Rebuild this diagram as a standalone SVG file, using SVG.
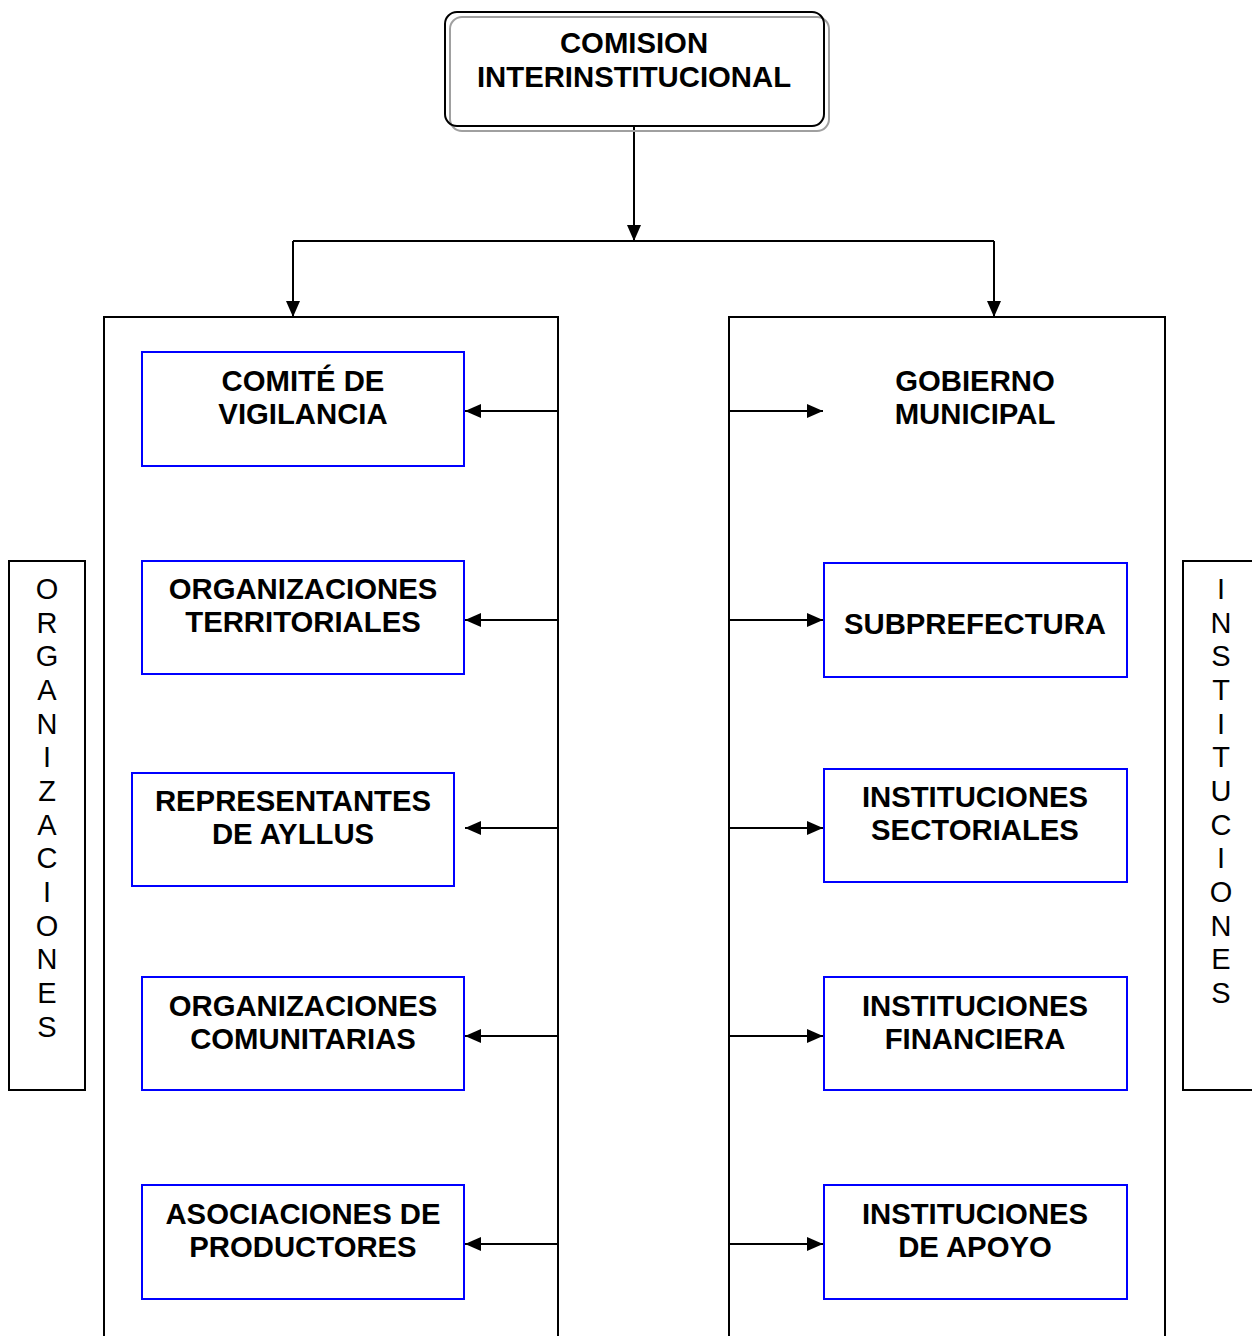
<svg xmlns="http://www.w3.org/2000/svg" width="1252" height="1336" viewBox="0 0 1252 1336">
<style>
.t{font-family:"Liberation Sans",Arial,sans-serif;font-weight:bold;font-size:29.3px;fill:#000;text-anchor:middle}
.v{font-family:"Liberation Sans",Arial,sans-serif;font-size:29px;fill:#000;text-anchor:middle}
.b{fill:#fff;stroke:#0000ff;stroke-width:2}
.k{fill:none;stroke:#000;stroke-width:2}
.c{fill:none;stroke:#000;stroke-width:2}
</style>
<defs>
<marker id="ah" viewBox="0 0 16 14" refX="16" refY="7" markerWidth="16" markerHeight="14" markerUnits="userSpaceOnUse" orient="auto">
<path d="M0,0 L16,7 L0,14 Z" fill="#000"/>
</marker>
</defs>
<rect width="1252" height="1336" fill="#fff"/>

<g id="containers">
<path class="k" d="M104,1336 V317 H558 V1336"/>
<path class="k" d="M729,1336 V317 H1165 V1336"/>
</g>

<g id="connectors">
<line class="c" x1="634" y1="126" x2="634" y2="241" marker-end="url(#ah)"/>
<path class="c" d="M293,241 H994"/>
<line class="c" x1="293" y1="241" x2="293" y2="317" marker-end="url(#ah)"/>
<line class="c" x1="994" y1="241" x2="994" y2="317" marker-end="url(#ah)"/>
<line class="c" x1="558" y1="411" x2="465" y2="411" marker-end="url(#ah)"/>
<line class="c" x1="558" y1="620" x2="465" y2="620" marker-end="url(#ah)"/>
<line class="c" x1="558" y1="828" x2="465" y2="828" marker-end="url(#ah)"/>
<line class="c" x1="558" y1="1036" x2="465" y2="1036" marker-end="url(#ah)"/>
<line class="c" x1="558" y1="1244" x2="465" y2="1244" marker-end="url(#ah)"/>
<line class="c" x1="729" y1="411" x2="823" y2="411" marker-end="url(#ah)"/>
<line class="c" x1="729" y1="620" x2="823" y2="620" marker-end="url(#ah)"/>
<line class="c" x1="729" y1="828" x2="823" y2="828" marker-end="url(#ah)"/>
<line class="c" x1="729" y1="1036" x2="823" y2="1036" marker-end="url(#ah)"/>
<line class="c" x1="729" y1="1244" x2="823" y2="1244" marker-end="url(#ah)"/>
</g>

<g id="comision">
<rect x="450" y="17" width="379" height="114" rx="12" fill="none" stroke="#a0a0a0" stroke-width="2"/>
<rect x="445" y="12" width="379" height="114" rx="12" fill="none" stroke="#000" stroke-width="2"/>
<text class="t" x="634" y="53">COMISION</text>
<text class="t" x="634" y="87">INTERINSTITUCIONAL</text>
</g>

<g id="comite">
<rect class="b" x="142" y="352" width="322" height="114"/>
<text class="t" x="303" y="391">COMITÉ DE</text>
<text class="t" x="303" y="424">VIGILANCIA</text>
</g>
<g id="org-territoriales">
<rect class="b" x="142" y="561" width="322" height="113"/>
<text class="t" x="303" y="599">ORGANIZACIONES</text>
<text class="t" x="303" y="632">TERRITORIALES</text>
</g>
<g id="representantes">
<rect class="b" x="132" y="773" width="322" height="113"/>
<text class="t" x="293" y="811">REPRESENTANTES</text>
<text class="t" x="293" y="844">DE AYLLUS</text>
</g>
<g id="org-comunitarias">
<rect class="b" x="142" y="977" width="322" height="113"/>
<text class="t" x="303" y="1016">ORGANIZACIONES</text>
<text class="t" x="303" y="1049">COMUNITARIAS</text>
</g>
<g id="asociaciones">
<rect class="b" x="142" y="1185" width="322" height="114"/>
<text class="t" x="303" y="1224">ASOCIACIONES DE</text>
<text class="t" x="303" y="1257">PRODUCTORES</text>
</g>

<g id="gobierno">
<text class="t" x="975" y="391">GOBIERNO</text>
<text class="t" x="975" y="424">MUNICIPAL</text>
</g>
<g id="subprefectura">
<rect class="b" x="824" y="563" width="303" height="114"/>
<text class="t" x="975" y="634">SUBPREFECTURA</text>
</g>
<g id="inst-sectoriales">
<rect class="b" x="824" y="769" width="303" height="113"/>
<text class="t" x="975" y="807">INSTITUCIONES</text>
<text class="t" x="975" y="840">SECTORIALES</text>
</g>
<g id="inst-financiera">
<rect class="b" x="824" y="977" width="303" height="113"/>
<text class="t" x="975" y="1016">INSTITUCIONES</text>
<text class="t" x="975" y="1049">FINANCIERA</text>
</g>
<g id="inst-apoyo">
<rect class="b" x="824" y="1185" width="303" height="114"/>
<text class="t" x="975" y="1224">INSTITUCIONES</text>
<text class="t" x="975" y="1257">DE APOYO</text>
</g>

<g id="organizaciones-label">
<rect x="9" y="561" width="76" height="529" fill="#fff" stroke="#000" stroke-width="2"/>
<text class="v" x="47" y="599">O</text>
<text class="v" x="47" y="633">R</text>
<text class="v" x="47" y="666">G</text>
<text class="v" x="47" y="700">A</text>
<text class="v" x="47" y="734">N</text>
<text class="v" x="47" y="767">I</text>
<text class="v" x="47" y="801">Z</text>
<text class="v" x="47" y="835">A</text>
<text class="v" x="47" y="868">C</text>
<text class="v" x="47" y="902">I</text>
<text class="v" x="47" y="936">O</text>
<text class="v" x="47" y="969">N</text>
<text class="v" x="47" y="1003">E</text>
<text class="v" x="47" y="1037">S</text>
</g>
<g id="instituciones-label">
<rect x="1183" y="561" width="80" height="529" fill="#fff" stroke="#000" stroke-width="2"/>
<text class="v" x="1221" y="599">I</text>
<text class="v" x="1221" y="633">N</text>
<text class="v" x="1221" y="666">S</text>
<text class="v" x="1221" y="700">T</text>
<text class="v" x="1221" y="734">I</text>
<text class="v" x="1221" y="767">T</text>
<text class="v" x="1221" y="801">U</text>
<text class="v" x="1221" y="835">C</text>
<text class="v" x="1221" y="868">I</text>
<text class="v" x="1221" y="902">O</text>
<text class="v" x="1221" y="936">N</text>
<text class="v" x="1221" y="969">E</text>
<text class="v" x="1221" y="1003">S</text>
</g>
</svg>
